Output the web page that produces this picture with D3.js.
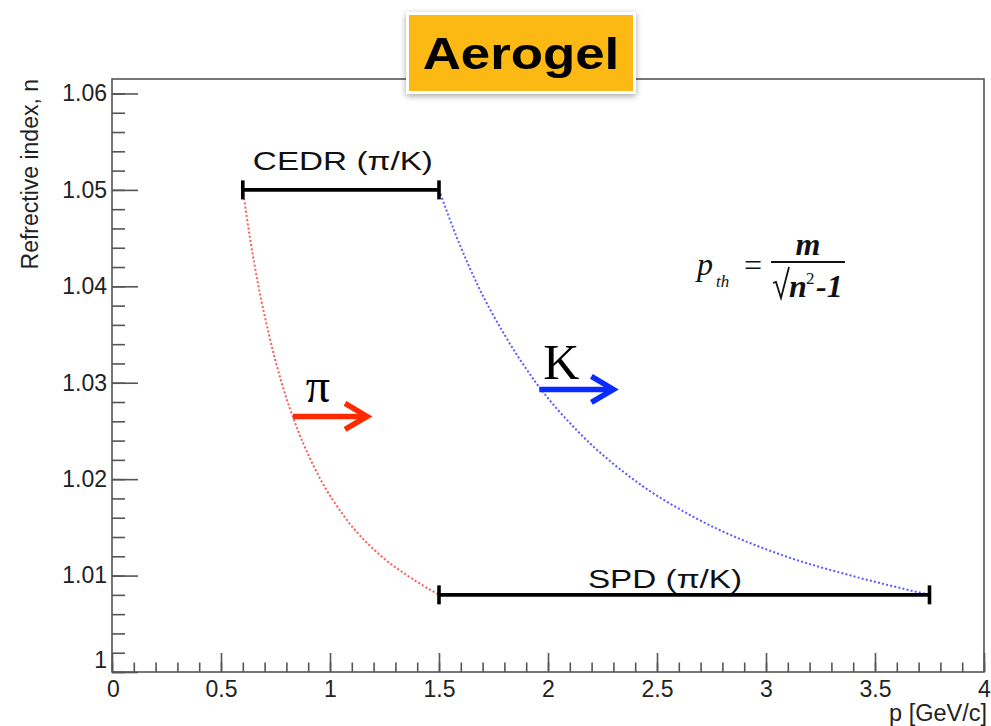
<!DOCTYPE html>
<html>
<head>
<meta charset="utf-8">
<script src="https://cdn.jsdelivr.net/npm/d3@7"></script>
<style>
  html, body { margin: 0; padding: 0; background: #fff; }
  svg { display: block; font-family: "Liberation Sans", Arial, Helvetica, sans-serif; }
</style>
</head>
<body>
<svg id="chart" width="991" height="726"></svg>
<script>
// Refractive index n versus threshold momentum p
const indexN = [1.050, 1.045, 1.040, 1.035, 1.030, 1.025, 1.020, 1.016, 1.012, 1.010, 1.008];
const pionP  = [0.60, 0.633, 0.672, 0.72, 0.778, 0.854, 0.956, 1.07, 1.236, 1.355, 1.50];
const kaonP  = [1.50, 1.583, 1.68, 1.80, 1.945, 2.135, 2.39, 2.675, 3.09, 3.39, 3.75];

// Detector coverage ranges: [pMin, pMax, n]
const cedrRange = [0.6, 1.5, 1.05];
const spdRange  = [1.5, 3.75, 1.008];

// Arrow annotations: start point on curve [p, n], length in p
const pionArrow = [0.83, 1.0265, 0.34];
const kaonArrow = [1.96, 1.0293, 0.34];

const xTicks = [0, 0.5, 1, 1.5, 2, 2.5, 3, 3.5, 4];
const yTicks = [1, 1.01, 1.02, 1.03, 1.04, 1.05, 1.06];

(function () {
const svg = d3.select("#chart");
const padL = 112, padR = 984, padT = 79, padB = 672;
const serif = "'Liberation Serif', 'Times New Roman', serif";

const x = d3.scaleLinear().domain([0, 4]).range([padL, padR]);
const y = d3.scaleLinear().domain([1, 1.0615]).range([padB, padT]);

// Frame
svg.append("rect")
  .attr("x", padL).attr("y", padT)
  .attr("width", padR - padL).attr("height", padB - padT)
  .attr("fill", "none").attr("stroke", "#555").attr("stroke-width", 1.6);

// Axes with inward ticks (major + minor)
const axisColor = "#555";
const xMinor = d3.range(0, 4.0001, 0.1).map(v => +v.toFixed(2));
const yMinor = d3.range(1, 1.0615, 0.002).map(v => +v.toFixed(4));

const gx = svg.append("g").attr("transform", `translate(0,${padB})`);
gx.call(d3.axisBottom(x).tickValues(xMinor).tickSize(-9.5).tickFormat(""));
gx.call(g => g.select(".domain").remove());
const gxMaj = svg.append("g").attr("transform", `translate(0,${padB})`)
  .call(d3.axisBottom(x).tickValues(xTicks).tickSize(-19).tickPadding(9)
    .tickFormat(d => d3.format("")(d)));
gxMaj.select(".domain").remove();
gxMaj.selectAll("text")
  .style("font-family", "'Liberation Sans', Arial, sans-serif").style("font-size", "23px")
  .attr("fill", "#222").attr("dy", "0.71em").attr("y", 9);
gxMaj.selectAll(".tick").filter(d => d === 0).select("text").attr("x", 1);

const gy = svg.append("g").attr("transform", `translate(${padL},0)`);
gy.call(d3.axisLeft(y).tickValues(yMinor).tickSize(-13).tickFormat(""));
gy.call(g => g.select(".domain").remove());
const gyMaj = svg.append("g").attr("transform", `translate(${padL},0)`)
  .call(d3.axisLeft(y).tickValues(yTicks).tickSize(-26).tickPadding(6)
    .tickFormat(d => d === 1 ? "1" : d3.format(".2f")(d)));
gyMaj.select(".domain").remove();
gyMaj.selectAll("text")
  .style("font-family", "'Liberation Sans', Arial, sans-serif").style("font-size", "23px")
  .attr("fill", "#222").attr("x", -5);
gyMaj.selectAll(".tick").filter(d => d === 1).select("text").attr("dy", "-0.2em");

svg.selectAll(".tick line").attr("stroke", axisColor).attr("stroke-width", 1.6);

// Axis titles
svg.append("text")
  .attr("transform", `translate(38,${padT}) rotate(-90)`)
  .attr("text-anchor", "end").style("font-size", "23px").attr("fill", "#222")
  .text("Refrective index, n");
svg.append("text")
  .attr("x", padR + 3).attr("y", 721)
  .attr("text-anchor", "end").style("font-size", "23.5px").attr("fill", "#222")
  .text("p [GeV/c]");

// Threshold curves (dotted)
const line = d3.line().x(d => x(d[0])).y(d => y(d[1])).curve(d3.curveMonotoneX);
svg.append("path")
  .datum(pionP.map((p, i) => [p, indexN[i]]))
  .attr("d", line).attr("fill", "none")
  .attr("stroke", "#ff5a5a").attr("stroke-width", 2).attr("stroke-dasharray", "2,2.2");
svg.append("path")
  .datum(kaonP.map((p, i) => [p, indexN[i]]))
  .attr("d", line).attr("fill", "none")
  .attr("stroke", "#5a5aff").attr("stroke-width", 2).attr("stroke-dasharray", "2,2.2");

// Range bars with end caps
function rangeBar(r) {
  const g = svg.append("g").attr("stroke", "#000").attr("stroke-width", 3.6);
  g.append("line").attr("x1", x(r[0])).attr("x2", x(r[1]))
    .attr("y1", y(r[2])).attr("y2", y(r[2]));
  [r[0], r[1]].forEach(p => g.append("line")
    .attr("x1", x(p)).attr("x2", x(p))
    .attr("y1", y(r[2]) - 9.5).attr("y2", y(r[2]) + 9.5));
}
rangeBar(cedrRange);
rangeBar(spdRange);

function label(txt, cx, baseline, size, sx) {
  svg.append("text")
    .attr("transform", `translate(${cx},${baseline}) scale(${sx},1)`)
    .attr("text-anchor", "middle").style("font-size", size + "px").attr("fill", "#111")
    .text(txt);
}
label("CEDR (π/K)", (x(cedrRange[0]) + x(cedrRange[1])) / 2 + 2, y(cedrRange[2]) - 20, 26, 1.28);
label("SPD (π/K)", 665, y(spdRange[2]) - 7, 26, 1.28);

// Particle arrows
function arrow(a, color) {
  const x0 = x(a[0]), x1 = x(a[0] + a[2]), yy = y(a[1]);
  const g = svg.append("g").attr("stroke", color).attr("stroke-width", 5.5)
    .attr("fill", "none").attr("stroke-linecap", "butt");
  g.append("line").attr("x1", x0).attr("x2", x1 - 3).attr("y1", yy).attr("y2", yy);
  g.append("path").attr("stroke-linejoin", "miter")
    .attr("d", `M${x1 - 22},${yy - 13} L${x1},${yy} L${x1 - 22},${yy + 13}`);
}
arrow(pionArrow, "#ff2a00");
arrow(kaonArrow, "#0a2bff");

svg.append("text").attr("x", x(pionArrow[0]) + 25).attr("y", y(pionArrow[1]) - 14)
  .attr("text-anchor", "middle").style("font-family", serif)
  .style("font-size", "48px").attr("fill", "#000").text("π");
svg.append("text").attr("x", x(kaonArrow[0]) + 22).attr("y", y(kaonArrow[1]) - 10)
  .attr("text-anchor", "middle").style("font-family", serif)
  .style("font-size", "50px").attr("fill", "#000").text("K");

// Threshold formula
const f = svg.append("g").attr("fill", "#111")
  .style("font-family", serif).style("font-style", "italic");
f.append("text").attr("x", 697).attr("y", 275).style("font-size", "32px").text("p");
f.append("text").attr("x", 716).attr("y", 287).style("font-size", "17px").text("th");
f.append("text").attr("x", 744).attr("y", 276).style("font-size", "32px").style("font-style", "normal").text("=");
f.append("line").attr("x1", 771).attr("x2", 845).attr("y1", 262).attr("y2", 262)
  .attr("stroke", "#111").attr("stroke-width", 2.2);
f.append("text").attr("x", 808).attr("y", 255).attr("text-anchor", "middle")
  .style("font-size", "32px").style("font-weight", "bold").text("m");
f.append("path").attr("fill", "none").attr("stroke", "#111").attr("stroke-width", 1.8)
  .attr("d", "M773,283 L776,282 L781,298 L789,267");
f.append("text").attr("x", 789).attr("y", 297).style("font-size", "32px").style("font-weight", "bold").text("n");
f.append("text").attr("x", 806).attr("y", 284).style("font-size", "17px").style("font-style", "normal").text("2");
f.append("text").attr("x", 816).attr("y", 297).style("font-size", "32px").style("font-weight", "bold").text("-1");

// Title badge
const defs = svg.append("defs");
const filt = defs.append("filter").attr("id", "shadow")
  .attr("x", "-20%").attr("y", "-20%").attr("width", "140%").attr("height", "150%");
filt.append("feDropShadow").attr("dx", 0).attr("dy", 2).attr("stdDeviation", 3)
  .attr("flood-color", "#000").attr("flood-opacity", 0.35);
svg.append("rect").attr("x", 406).attr("y", 12).attr("width", 230).attr("height", 82)
  .attr("fill", "#fff").attr("filter", "url(#shadow)");
svg.append("rect").attr("x", 409).attr("y", 15).attr("width", 224).attr("height", 76)
  .attr("fill", "#fdb913");
svg.append("text")
  .attr("transform", "translate(521,69) scale(1.2,1)")
  .attr("text-anchor", "middle").style("font-size", "44px").style("font-weight", "bold")
  .attr("fill", "#000").text("Aerogel");
})();
</script>
</body>
</html>
